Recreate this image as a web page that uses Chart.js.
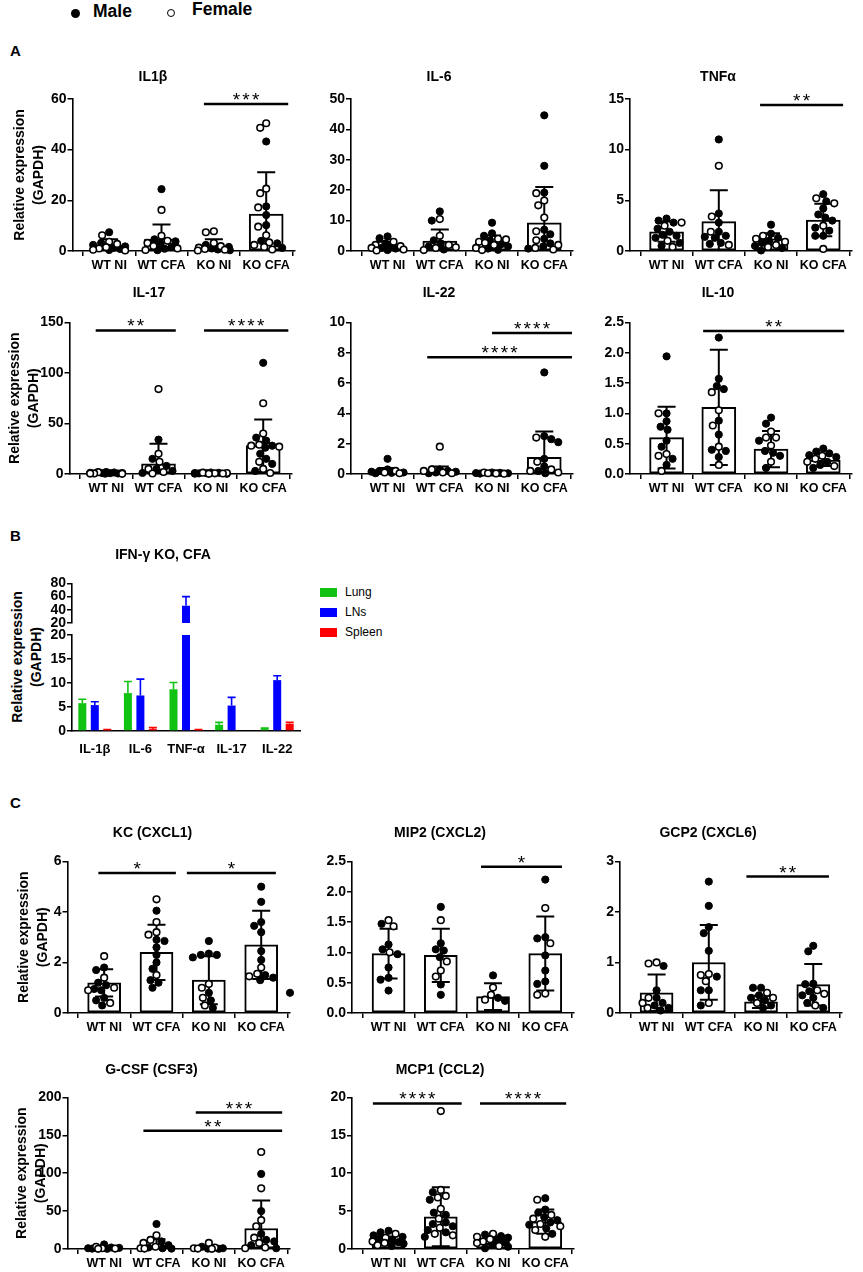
<!DOCTYPE html>
<html><head><meta charset="utf-8">
<script src="https://cdn.jsdelivr.net/npm/chart.js@4.4.1/dist/chart.umd.min.js"></script>
<style>
html,body{margin:0;padding:0;background:#fff;}
body{width:863px;height:1272px;position:relative;overflow:hidden;font-family:'Liberation Sans',Arial,sans-serif;color:#000;}
.abs{position:absolute;}
.t{position:absolute;font-weight:bold;line-height:1;white-space:nowrap;}
</style></head><body>
<!-- sex legend -->
<div class="abs" style="left:70.5px;top:8.5px;width:9px;height:9px;border-radius:50%;background:#000"></div>
<div class="t" style="left:93px;top:3px;font-size:17.5px">Male</div>
<div class="abs" style="left:166.5px;top:8.5px;width:6px;height:6px;border-radius:50%;border:1.4px solid #000"></div>
<div class="t" style="left:192px;top:1px;font-size:17.5px">Female</div>
<!-- panel letters -->
<div class="t" style="left:10px;top:43px;font-size:15px">A</div>
<div class="t" style="left:10px;top:528px;font-size:15px">B</div>
<div class="t" style="left:10px;top:795px;font-size:15px">C</div>
<!-- panel B y title and legend -->
<div class="t" style="left:27px;top:657px;transform:translate(-50%,-50%) rotate(-90deg);font-size:14px;line-height:19px;text-align:center">Relative expression<br>(GAPDH)</div>
<div class="abs" style="left:320px;top:588px;width:17px;height:9px;background:#12c212"></div>
<div class="abs" style="left:345px;top:585px;font-size:12px;line-height:14px">Lung</div>
<div class="abs" style="left:320px;top:608px;width:17px;height:9px;background:#0000ff"></div>
<div class="abs" style="left:345px;top:605px;font-size:12px;line-height:14px">LNs</div>
<div class="abs" style="left:320px;top:628px;width:17px;height:9px;background:#ff0000"></div>
<div class="abs" style="left:345px;top:625px;font-size:12px;line-height:14px">Spleen</div>
<script>
const FONT = "'Liberation Sans', Arial, Helvetica, sans-serif";
Chart.defaults.font.family = FONT;
Chart.defaults.color = '#000';
Chart.defaults.animation = false;

// ---------- DATA ----------
const groupLabels = ['WT NI', 'WT CFA', 'KO NI', 'KO CFA'];

// IL1β
const il1bTicks = [0, 20, 40, 60];
const il1bMean = [2.0, 4.7, 1.9, 14.6];
const il1bSD = [2.6, 5.8, 2.7, 16.5];
const il1bMale = [[7.4, 3.2, 2.4, 1.8, 1.2, 0.8, 0.4], [24.4, 4.6, 3.8, 2.8, 1.6, 0.9, 0.3], [2.4, 1.6, 1.0, 0.6, 0.3], [43.2, 17.6, 14.2, 10.2, 4.0, 3.0, 1.2]];
const il1bFemale = [[6.2, 3.6, 2.8, 1.5, 1.0, 0.5, 0.2], [16.2, 6.0, 4.0, 3.2, 2.0, 1.0, 0.4], [7.8, 7.4, 3.2, 1.9, 1.3, 0.8, 0.5, 0.2], [50.4, 48.6, 24.6, 22.8, 17.2, 9.6, 6.2, 3.4, 2.4, 1.6, 0.6]];
const il1bSig = [[1.81, 3.42, 58, '***']];

// IL-6
const il6Ticks = [0, 10, 20, 30, 40, 50];
const il6Mean = [1.4, 3.3, 2.5, 9.3];
const il6SD = [1.6, 3.8, 2.6, 11.7];
const il6Male = [[4.8, 4.2, 2.5, 1.5, 1.0, 0.8, 0.3], [13.0, 10.0, 3.5, 2.5, 1.5, 0.5], [9.3, 5.8, 5.0, 3.5, 2.2, 1.5, 0.8, 0.4], [44.6, 28.0, 19.2, 7.0, 5.5, 4.0, 2.5, 1.5, 0.8]];
const il6Female = [[3.0, 2.0, 1.6, 1.0, 0.5, 0.2], [10.5, 5.0, 2.0, 1.2, 1.0, 0.3], [4.0, 3.8, 3.0, 2.7, 2.0, 1.0, 0.3], [19.0, 16.6, 15.0, 11.0, 6.5, 3.5, 2.0, 1.0, 0.5]];
const il6Sig = [];

// TNFα
const tnfTicks = [0, 5, 10, 15];
const tnfMean = [1.9, 2.9, 1.2, 3.05];
const tnfSD = [1.0, 3.1, 0.55, 1.6];
const tnfMale = [[3.2, 3.0, 2.8, 2.2, 1.9, 1.6, 1.5, 1.3, 0.8, 0.5], [11.0, 3.7, 2.8, 1.9, 1.5, 1.4, 1.3, 0.8, 0.7], [2.6, 1.7, 1.3, 1.0, 0.8, 0.5, 0.3, 0.05], [5.6, 4.9, 4.2, 3.6, 3.3, 3.0, 2.3, 2.0, 1.5, 1.5]];
const tnfFemale = [[2.8, 2.5, 1.0, 0.4], [8.4, 3.4, 1.9, 0.6], [1.5, 1.2, 0.9, 0.6, 0.4], [5.2, 4.7, 2.5, 0.2]];
const tnfSig = [[1.79, 3.38, 14.4, '**']];

// IL-17
const il17Ticks = [0, 50, 100, 150];
const il17Mean = [1.0, 10.0, 0.8, 28.0];
const il17SD = [1.0, 20.0, 0.8, 26.0];
const il17Male = [[2.0, 1.5, 1.2, 0.9, 0.8, 0.5, 0.3], [34, 15, 8, 5, 3, 1], [1.5, 1.2, 1.0, 0.8, 0.6, 0.3, 0.2], [110, 36, 33, 28, 26, 20, 15, 10, 3]];
const il17Female = [[1.8, 1.0, 0.6, 0.4, 0.2], [84, 20, 12, 5, 2, 0.5], [1.3, 0.9, 0.7, 0.5, 0.2], [70, 40, 29, 28, 27, 12, 5, 1]];
const il17Sig = [[-0.20, 1.33, 142, '**'], [1.87, 3.48, 142, '****']];

// IL-22
const il22Ticks = [0, 2, 4, 6, 8, 10];
const il22Mean = [0.15, 0.15, 0.05, 1.1];
const il22SD = [0.25, 0.35, 0.04, 1.7];
const il22Male = [[1.0, 0.3, 0.2, 0.15, 0.1, 0.08, 0.05], [0.3, 0.2, 0.15, 0.1, 0.05], [0.1, 0.08, 0.06, 0.05, 0.03], [6.7, 2.5, 2.3, 2.1, 1.0, 0.5, 0.2, 0.05]];
const il22Female = [[0.2, 0.1, 0.05], [1.8, 0.3, 0.2, 0.1, 0.05], [0.1, 0.05, 0.04, 0.02], [2.4, 0.8, 0.3, 0.2, 0.1]];
const il22Sig = [[2.0, 3.53, 9.3, '****'], [0.76, 3.53, 7.7, '****']];

// IL-10
const il10Ticks = [0, 0.5, 1.0, 1.5, 2.0, 2.5];
const il10Mean = [0.6, 1.1, 0.41, 0.23];
const il10SD = [0.51, 0.95, 0.3, 0.1];
const il10Male = [[1.94, 1.0, 0.87, 0.78, 0.73, 0.55, 0.45, 0.25, 0.15], [2.25, 1.57, 1.45, 1.4, 0.88, 0.65, 0.4, 0.38, 0.28], [0.93, 0.83, 0.55, 0.38, 0.35, 0.3, 0.1], [0.42, 0.37, 0.34, 0.31, 0.28, 0.2, 0.15, 0.1]];
const il10Female = [[1.0, 0.33, 0.3, 0.05], [1.35, 1.05, 0.8, 0.45, 0.15], [0.7, 0.6, 0.6, 0.47, 0.2], [0.3, 0.25, 0.2, 0.13]];
const il10Sig = [[0.70, 3.40, 2.36, '**']];

// KC (CXCL1)
const kcTicks = [0, 2, 4, 6];
const kcMean = [1.19, 2.4, 1.3, 2.7];
const kcSD = [0.54, 1.09, 0.95, 1.35];
const kcMale = [[1.8, 1.7, 1.2, 1.1, 0.95, 0.9, 0.6, 0.5, 0.3], [4.05, 2.9, 2.85, 2.6, 2.3, 2.0, 1.75, 1.3, 1.2, 1.0], [2.85, 2.35, 2.3, 2.3, 2.2, 0.8, 0.5, 0.2], [5.0, 4.4, 3.6, 3.45, 3.2, 2.45, 2.1, 1.5, 1.4, 1.3]];
const kcFemale = [[2.25, 1.4, 1.0, 0.9, 0.4], [4.5, 3.6, 3.2, 3.1, 1.5], [1.15, 1.0, 0.6, 0.3], [1.8, 1.55, 1.45]];
const kcStray = [0.8];
const kcSig = [[-0.11, 1.37, 5.54, '*'], [1.58, 3.28, 5.54, '*']];

// MIP2 (CXCL2)
const mip2Ticks = [0, 0.5, 1.0, 1.5, 2.0, 2.5];
const mip2Mean = [0.98, 0.95, 0.27, 0.98];
const mip2SD = [0.41, 0.44, 0.22, 0.61];
const mip2Male = [[1.47, 1.13, 1.05, 0.97, 0.75, 0.58, 0.55, 0.37], [1.75, 1.15, 1.05, 1.03, 0.92, 0.47, 0.3], [0.62, 0.25, 0.2], [2.2, 1.25, 1.23, 0.95, 0.7, 0.52, 0.48]];
const mip2Female = [[1.53, 1.43, 1.0], [1.53, 0.85, 0.7, 0.6], [0.42, 0.3, 0.22], [1.73, 1.15, 0.32, 0.3]];
const mip2Sig = [[1.77, 3.32, 2.41, '*']];

// GCP2 (CXCL6)
const gcp2Ticks = [0, 1, 2, 3];
const gcp2Mean = [0.4, 1.0, 0.22, 0.56];
const gcp2SD = [0.36, 0.74, 0.12, 0.41];
const gcp2Male = [[0.93, 0.45, 0.3, 0.2, 0.15, 0.1, 0.05], [2.6, 2.12, 1.7, 1.58, 1.23, 0.72, 0.45, 0.45, 0.15], [0.5, 0.5, 0.35, 0.3, 0.25, 0.15, 0.1], [1.33, 1.22, 0.58, 0.57, 0.43, 0.35, 0.3, 0.2, 0.1]];
const gcp2Female = [[1.0, 0.98, 0.3, 0.2, 0.1], [0.77, 0.75, 0.63, 0.2], [0.4, 0.3, 0.2], [0.45, 0.38, 0.15]];
const gcp2Sig = [[1.72, 3.3, 2.7, '**']];

// G-CSF (CSF3)
const gcsfTicks = [0, 50, 100, 150, 200];
const gcsfMean = [1.0, 4.0, 1.2, 27];
const gcsfSD = [1.5, 9.0, 2.0, 37];
const gcsfMale = [[6.0, 2.0, 1.5, 1.0, 0.5, 0.3], [33, 10, 5, 2, 1, 0.5], [3.0, 1.0, 0.5, 0.3], [99, 50, 20, 12, 10, 5, 1]];
const gcsfFemale = [[3.0, 1.0, 0.5, 0.2], [18, 12, 8, 3, 1, 0.5], [8.0, 2.0, 1.0, 0.5, 0.2], [128, 80, 38, 30, 15, 8, 2, 1]];
const gcsfSig = [[1.75, 3.4, 180, '***'], [0.75, 3.4, 156, '**']];

// MCP1 (CCL2)
const mcp1Ticks = [0, 5, 10, 15, 20];
const mcp1Mean = [1.2, 4.25, 1.15, 3.6];
const mcp1SD = [0.45, 3.9, 0.5, 1.6];
const mcp1Male = [[2.4, 2.2, 1.8, 1.6, 1.3, 1.2, 0.9, 0.7, 0.4], [7.5, 6.5, 4.8, 4.5, 3.5, 3.3, 3.0, 2.5, 2.2, 1.6], [1.9, 1.7, 1.5, 1.2, 0.9, 0.6, 0.3, 0.1], [6.7, 5.2, 4.8, 4.2, 3.8, 3.5, 3.2, 2.7, 2.0]];
const mcp1Female = [[2.0, 1.5, 1.0, 0.8, 0.5], [18.2, 7.8, 7.0, 6.8, 5.3, 4.0, 2.8, 2.0, 1.8], [2.0, 1.6, 1.3, 1.0, 0.8, 0.4], [6.5, 4.5, 4.0, 3.3, 3.0, 2.5, 1.6]];
const mcp1Sig = [[-0.3, 1.4, 19.2, '****'], [1.75, 3.4, 19.2, '****']];

// Panel B: IFN-γ KO, CFA
const cytokines = ['IL-1β', 'IL-6', 'TNF-α', 'IL-17', 'IL-22'];
const lungMean = [5.8, 7.9, 8.7, 1.3, 0.4];
const lungErr = [0.8, 2.4, 1.4, 0.5, 0.2];
const lnMean = [5.4, 7.4, 46, 5.3, 10.6];
const lnErr = [0.7, 3.4, 14, 1.7, 0.9];
const spleenMean = [0.2, 0.4, 0.2, 0.0, 1.5];
const spleenErr = [0.1, 0.3, 0.1, 0.0, 0.3];
const bTicksLow = [0, 5, 10, 15, 20];
const bTicksHigh = [20, 40, 60, 80];

// ---------- HELPERS ----------
function mount(cfg, axisX, top, W, H, PW, PH) {
  const wrap = document.createElement('div');
  wrap.style.position = 'absolute';
  const cv = document.createElement('canvas');
  cv.width = Math.round(W); cv.height = Math.round(H);
  wrap.appendChild(cv); document.body.appendChild(wrap);
  const chart = new Chart(cv, cfg);
  let ca = chart.chartArea;
  const dw = PW - (ca.right - ca.left), dh = PH - (ca.bottom - ca.top);
  if (Math.abs(dw) > 1 || Math.abs(dh) > 1) {
    chart.resize(Math.round(chart.width + dw), Math.round(chart.height + dh));
    chart.update('none');
    cv.style.width = chart.width + 'px'; cv.style.height = chart.height + 'px';
    ca = chart.chartArea;
  }
  wrap.style.left = (axisX - ca.left) + 'px';
  wrap.style.top = (top - ca.top) + 'px';
  return chart;
}

function swarm(chart, male, female, D, maxOff) {
  const xs = chart.scales.x, ys = chart.scales.y;
  const unit = xs.getPixelForValue(1) - xs.getPixelForValue(0);
  const outM = [], outF = [];
  male.forEach((mv, g) => {
    const pts = mv.map(v => ({v, f: false})).concat(female[g].map(v => ({v, f: true})));
    pts.sort((a, b) => b.v - a.v);
    const placed = [];
    pts.forEach(p => {
      const py = ys.getPixelForValue(p.v);
      let best = 0, bestPen = Infinity;
      for (let k = 0; k <= 2 * maxOff; k++) {
        const off = (k % 2 === 1 ? -1 : 1) * Math.ceil(k / 2);
        let pen = Math.abs(off) * 0.02;
        for (const q of placed) {
          const d = Math.hypot(off - q.o, py - q.py);
          if (d < D) pen += (D - d) * (D - d);
        }
        if (pen < bestPen) { bestPen = pen; best = off; }
      }
      placed.push({o: best, py});
      (p.f ? outF : outM).push({x: g + best / unit, y: p.v});
    });
  });
  return [outM, outF];
}

function drawStars(ctx, text, cx, baseY) {
  ctx.font = '19px ' + FONT;
  ctx.textAlign = 'left';
  ctx.textBaseline = 'alphabetic';
  const gap = 2.2;
  const w = ctx.measureText('*').width;
  const n = text.length;
  const total = n * w + (n - 1) * gap;
  for (let i = 0; i < n; i++) ctx.fillText('*', cx - total / 2 + i * (w + gap), baseY);
}

const axisGrid = {display: true, drawOnChartArea: false, drawTicks: true, tickLength: 5, color: '#000', lineWidth: 1.5};
const axisBorder = {display: true, color: '#000', width: 1.6};

function dotPlot(s) {
  const PW = 222, PH = 152, PR = 14, XH = 26;
  const YW = s.yTitleX != null ? s.axisX - s.yTitleX + 9.5 : 46;
  const pb = s.titleGap - 8.4;
  const W = YW + PW + PR, H = 16.8 + pb + PH + XH;
  const extras = {
    id: 'extras',
    afterDatasetDraw(chart, args) {
      if (args.index !== 0) return;
      const {ctx, chartArea: ca, scales: {x, y}} = chart;
      ctx.save();
      ctx.beginPath(); ctx.rect(ca.left, ca.top - 3, ca.right - ca.left, ca.bottom - ca.top + 3); ctx.clip();
      ctx.strokeStyle = '#000'; ctx.lineWidth = 2;
      s.mean.forEach((m, i) => {
        const px = x.getPixelForValue(i);
        const hi = y.getPixelForValue(m + s.sd[i]);
        const loV = m - s.sd[i];
        const lo = y.getPixelForValue(loV);
        ctx.beginPath();
        ctx.moveTo(px, lo); ctx.lineTo(px, hi);
        ctx.moveTo(px - 9, hi); ctx.lineTo(px + 9, hi);
        if (loV > y.min) { ctx.moveTo(px - 9, lo); ctx.lineTo(px + 9, lo); }
        ctx.stroke();
      });
      ctx.restore();
    },
    afterDraw(chart) {
      const {ctx, scales: {x, y}} = chart;
      ctx.save();
      ctx.strokeStyle = '#000'; ctx.fillStyle = '#000'; ctx.lineWidth = 2.5;
      s.sig.forEach(([a, b, v, t]) => {
        const x1 = x.getPixelForValue(a), x2 = x.getPixelForValue(b), py = y.getPixelForValue(v);
        ctx.beginPath(); ctx.moveTo(x1, py); ctx.lineTo(x2, py); ctx.stroke();
        drawStars(ctx, t, (x1 + x2) / 2, py + 2);
      });
      ctx.restore();
    }
  };
  const datasets = [
    {type: 'bar', data: s.mean.map((m, i) => ({x: i, y: m})), backgroundColor: '#fff', borderColor: '#000', borderWidth: 2, borderSkipped: false, barThickness: s.barW, order: 5},
    {type: 'scatter', data: [], pointRadius: 3.6, pointBackgroundColor: '#000', pointBorderColor: '#000', pointBorderWidth: 1, order: 2, clip: false},
    {type: 'scatter', data: [], pointRadius: 3.3, pointBackgroundColor: '#fff', pointBorderColor: '#000', pointBorderWidth: 1.6, order: 1, clip: false}
  ];
  if (s.stray) datasets.push({type: 'scatter', data: s.stray.map(v => ({x: 3.55, y: v})), pointRadius: 3.6, pointBackgroundColor: '#000', pointBorderColor: '#000', order: 0, clip: false});
  const cfg = {
    type: 'bar',
    data: {datasets},
    options: {
      responsive: false, maintainAspectRatio: false, animation: false, events: [],
      layout: {padding: {top: 0, right: PR, left: 0, bottom: 0}},
      plugins: {
        legend: {display: false}, tooltip: {enabled: false},
        title: {display: true, text: s.title, color: '#000', font: {size: 14, weight: 'bold', family: FONT}, padding: {top: 0, bottom: pb}}
      },
      scales: {
        x: {
          type: 'linear', min: -0.7, max: 3.55, offset: false,
          afterBuildTicks: sc => { sc.ticks = groupLabels.map((_, i) => ({value: i})); },
          afterFit: sc => { sc.height = XH; },
          ticks: {autoSkip: false, maxRotation: 0, padding: 2, color: '#000', font: {size: 12.5, weight: 'bold', family: FONT}, callback: v => groupLabels[v] ?? ''},
          grid: axisGrid, border: axisBorder
        },
        y: {
          min: s.min, max: s.max,
          afterBuildTicks: sc => { sc.ticks = s.ticks.map(v => ({value: v})); },
          afterFit: sc => { sc.width = YW; },
          ticks: {autoSkip: false, padding: 1, color: '#000', font: {size: 14, weight: 'bold', family: FONT}, callback: v => Number(v).toFixed(s.dec)},
          grid: axisGrid, border: axisBorder,
          title: s.yTitleX != null
            ? {display: true, text: ['Relative expression', '(GAPDH)'], color: '#000', font: {size: 14, weight: 'bold', family: FONT, lineHeight: 19 / 14}, padding: {top: 0, bottom: 0}}
            : {display: false}
        }
      }
    },
    plugins: [extras]
  };
  const chart = mount(cfg, s.axisX, s.top, W, H, PW, PH);
  const [m, f] = swarm(chart, s.male, s.female, 7.6, s.barW / 2 - 1);
  chart.data.datasets[1].data = m;
  chart.data.datasets[2].data = f;
  chart.update('none');
}

const specs = [
  {title: 'IL1β', axisX: 72, top: 99, titleGap: 21.5, yTitleX: 20, min: 0, max: 60, ticks: il1bTicks, dec: 0, mean: il1bMean, sd: il1bSD, male: il1bMale, female: il1bFemale, sig: il1bSig, barW: 34},
  {title: 'IL-6', axisX: 351, top: 99, titleGap: 21.5, min: 0, max: 50, ticks: il6Ticks, dec: 0, mean: il6Mean, sd: il6SD, male: il6Male, female: il6Female, sig: il6Sig, barW: 34},
  {title: 'TNFα', axisX: 630, top: 99, titleGap: 21.5, min: 0, max: 15, ticks: tnfTicks, dec: 0, mean: tnfMean, sd: tnfSD, male: tnfMale, female: tnfFemale, sig: tnfSig, barW: 34},
  {title: 'IL-17', axisX: 69, top: 322, titleGap: 29, yTitleX: 15, min: 0, max: 150, ticks: il17Ticks, dec: 0, mean: il17Mean, sd: il17SD, male: il17Male, female: il17Female, sig: il17Sig, barW: 34},
  {title: 'IL-22', axisX: 351, top: 322, titleGap: 29, min: 0, max: 10, ticks: il22Ticks, dec: 0, mean: il22Mean, sd: il22SD, male: il22Male, female: il22Female, sig: il22Sig, barW: 34},
  {title: 'IL-10', axisX: 630, top: 322, titleGap: 29, min: 0, max: 2.5, ticks: il10Ticks, dec: 1, mean: il10Mean, sd: il10SD, male: il10Male, female: il10Female, sig: il10Sig, barW: 34},
  {title: 'KC (CXCL1)', axisX: 67, top: 861, titleGap: 28, yTitleX: 24, min: 0, max: 6, ticks: kcTicks, dec: 0, mean: kcMean, sd: kcSD, male: kcMale, female: kcFemale, sig: kcSig, barW: 33, stray: kcStray},
  {title: 'MIP2 (CXCL2)', axisX: 352, top: 861, titleGap: 28, min: 0, max: 2.5, ticks: mip2Ticks, dec: 1, mean: mip2Mean, sd: mip2SD, male: mip2Male, female: mip2Female, sig: mip2Sig, barW: 33},
  {title: 'GCP2 (CXCL6)', axisX: 620, top: 861, titleGap: 28, min: 0, max: 3, ticks: gcp2Ticks, dec: 0, mean: gcp2Mean, sd: gcp2SD, male: gcp2Male, female: gcp2Female, sig: gcp2Sig, barW: 33},
  {title: 'G-CSF (CSF3)', axisX: 67, top: 1097, titleGap: 27, yTitleX: 22, min: 0, max: 200, ticks: gcsfTicks, dec: 0, mean: gcsfMean, sd: gcsfSD, male: gcsfMale, female: gcsfFemale, sig: gcsfSig, barW: 33},
  {title: 'MCP1 (CCL2)', axisX: 352, top: 1097, titleGap: 27, min: 0, max: 20, ticks: mcp1Ticks, dec: 0, mean: mcp1Mean, sd: mcp1SD, male: mcp1Male, female: mcp1Female, sig: mcp1Sig, barW: 33}
];
specs.forEach(dotPlot);

// ---------- PANEL B (broken axis: two stacked charts) ----------
(function panelB() {
  const axisX = 72, PW = 228, PR = 10, YW = 46;
  const colors = ['#12c212', '#0000ff', '#ff0000'];
  const names = ['Lung', 'LNs', 'Spleen'];
  const means = [lungMean, lnMean, spleenMean];
  const errs = [lungErr, lnErr, spleenErr];
  const errPlugin = {
    id: 'bErr',
    afterDatasetsDraw(chart) {
      const {ctx, chartArea: ca, scales: {y}} = chart;
      ctx.save();
      ctx.beginPath(); ctx.rect(ca.left, ca.top - 2, ca.right - ca.left, ca.bottom - ca.top + 2); ctx.clip();
      ctx.lineWidth = 1.6;
      means.forEach((mv, di) => {
        const meta = chart.getDatasetMeta(di);
        meta.data.forEach((bar, j) => {
          const e = errs[di][j];
          if (!e) return;
          const top = y.getPixelForValue(mv[j] + e), base = y.getPixelForValue(mv[j]);
          ctx.strokeStyle = colors[di];
          ctx.beginPath();
          ctx.moveTo(bar.x, base); ctx.lineTo(bar.x, top);
          ctx.moveTo(bar.x - 4, top); ctx.lineTo(bar.x + 4, top);
          ctx.stroke();
        });
      });
      ctx.restore();
    }
  };
  function cfg(upper) {
    const pb = 28 - 8.4;
    return {
      type: 'bar',
      data: {
        labels: cytokines,
        datasets: means.map((mv, i) => ({label: names[i], data: mv, backgroundColor: colors[i], borderWidth: 0, categoryPercentage: 0.822, barPercentage: 0.64}))
      },
      options: {
        responsive: false, maintainAspectRatio: false, animation: false, events: [],
        layout: {padding: {top: upper ? 0 : 10, right: PR, left: 0, bottom: upper ? 10 : 0}},
        plugins: {
          legend: {display: false}, tooltip: {enabled: false},
          title: upper ? {display: true, text: 'IFN-γ KO, CFA', color: '#000', font: {size: 14, weight: 'bold', family: FONT}, padding: {top: 0, bottom: pb}} : {display: false}
        },
        scales: {
          x: {
            display: !upper,
            afterFit: sc => { sc.height = 26; },
            ticks: {autoSkip: false, maxRotation: 0, padding: 3, color: '#000', font: {size: 13, weight: 'bold', family: FONT}},
            grid: {display: false},
            border: axisBorder
          },
          y: {
            min: upper ? 20 : 0, max: upper ? 80 : 20,
            afterBuildTicks: sc => { sc.ticks = (upper ? bTicksHigh : bTicksLow).map(v => ({value: v})); },
            afterFit: sc => { sc.width = YW; },
            ticks: {autoSkip: false, padding: 1, color: '#000', font: {size: 14, weight: 'bold', family: FONT}},
            grid: axisGrid, border: axisBorder
          }
        }
      },
      plugins: [errPlugin]
    };
  }
  mount(cfg(true), axisX, 583, YW + PW + PR, 16.8 + 19.6 + 40 + 10, PW, 40);
  mount(cfg(false), axisX, 635, YW + PW + PR, 10 + 96 + 26, PW, 96);
})();
</script>
</body></html>
